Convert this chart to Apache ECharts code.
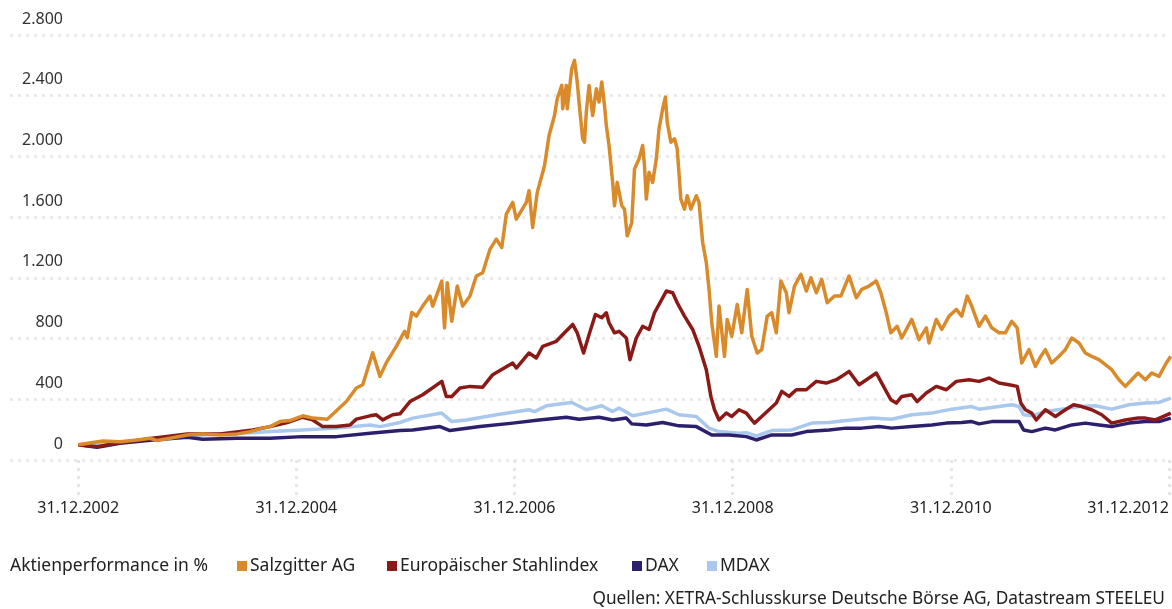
<!DOCTYPE html>
<html><head><meta charset="utf-8">
<script src="https://cdn.jsdelivr.net/npm/echarts@6/dist/echarts.min.js"></script>
<style>html,body{margin:0;padding:0;background:#fff}#c{width:1172px;height:609px}</style>
</head><body><div id="c"></div>
<script>
// x values: months since 31.12.2002
const tickMonths = [0, 24, 48, 72, 96, 120];
const tickLabels = ['31.12.2002', '31.12.2004', '31.12.2006', '31.12.2008', '31.12.2010', '31.12.2012'];
const yTicks = [0, 400, 800, 1200, 1600, 2000, 2400, 2800];
const seriesNames = ['Salzgitter AG', 'Europäischer Stahlindex', 'DAX', 'MDAX'];

const salzgitter = [
[0,100],[2.7,125],[4.6,121],[6.5,132],[7.9,143],[8.7,128],[10.1,143],[12.0,165],[13.7,172],[15.6,165],[17.5,172],[18.9,187],[20.3,210],[21.1,220],[22.2,253],[23.3,260],[24.7,291],[25.8,276],[27.4,269],[28.5,330],[29.5,385],[30.6,474],[31.3,496],[32.4,707],[33.2,551],[33.9,641],[35.0,749],[35.9,848],[36.2,806],[36.7,972],[37.2,948],[37.9,1014],[38.7,1080],[39.0,1014],[39.8,1146],[40.0,1179],[40.3,871],[40.6,1168],[41.1,914],[41.7,1146],[42.3,1014],[43.1,1080],[43.8,1212],[44.5,1234],[45.3,1388],[46.0,1455],[46.6,1400],[47.1,1620],[47.8,1697],[48.2,1587],[49.3,1697],[49.6,1774],[50.0,1532],[50.5,1763],[51.3,1939],[51.8,2138],[52.4,2270],[52.7,2380],[53.2,2468],[53.3,2314],[53.7,2468],[53.8,2314],[54.3,2579],[54.6,2633],[54.9,2490],[55.1,2358],[55.5,2116],[55.7,2094],[55.9,2292],[56.2,2468],[56.6,2270],[57.0,2446],[57.3,2358],[57.6,2490],[57.9,2336],[58.1,2204],[58.4,2072],[58.8,1829],[59.0,1675],[59.3,1829],[59.8,1675],[60.1,1653],[60.4,1477],[60.9,1565],[61.2,1917],[61.7,1984],[62.1,2072],[62.3,1939],[62.5,1719],[62.8,1895],[63.2,1829],[63.6,1984],[63.9,2182],[64.3,2314],[64.6,2391],[64.8,2226],[65.2,2094],[65.6,2116],[65.9,2050],[66.3,1719],[66.7,1653],[67.0,1741],[67.4,1653],[68.0,1741],[68.3,1697],[68.7,1433],[69.1,1300],[69.4,1124],[69.7,904],[70.2,683],[70.5,1014],[71.1,683],[71.4,926],[71.9,815],[72.5,1025],[73.0,838],[73.6,1124],[74.1,815],[74.7,705],[75.2,727],[75.8,948],[76.3,970],[76.8,838],[77.3,1179],[77.9,1102],[78.2,970],[78.8,1146],[79.5,1223],[80.1,1113],[80.6,1201],[81.2,1102],[81.8,1190],[82.4,1036],[83.2,1080],[83.9,1080],[84.8,1212],[85.6,1069],[86.2,1124],[87.0,1146],[87.8,1179],[88.3,1102],[88.9,970],[89.4,838],[90.1,881],[90.6,804],[91.7,926],[92.5,793],[93.3,871],[93.6,771],[94.4,926],[95.0,860],[95.8,948],[96.6,992],[97.2,948],[97.8,1080],[98.3,1014],[99.1,881],[99.8,948],[100.5,871],[101.3,838],[102.0,838],[102.7,914],[103.3,871],[103.8,639],[104.6,727],[105.3,617],[105.9,683],[106.4,727],[107.1,639],[107.9,683],[108.6,727],[109.3,804],[110.1,771],[110.8,705],[111.5,683],[112.3,661],[113.0,628],[113.7,595],[114.5,529],[115.2,485],[115.9,529],[116.6,573],[117.4,529],[118.1,573],[118.9,551],[119.7,639],[120.2,683]
];

const stahlindex = [
[0,100],[2.1,88],[4.6,114],[8.2,143],[12.0,172],[15.6,172],[19.2,198],[21.1,220],[23.0,247],[24.7,282],[25.8,264],[26.9,220],[28.4,220],[29.9,231],[30.6,269],[32.1,291],[32.8,298],[33.5,264],[34.6,298],[35.4,304],[36.5,385],[37.9,430],[40.0,518],[40.5,419],[41.1,419],[42.0,474],[43.1,485],[44.5,480],[45.6,562],[47.8,639],[48.2,606],[49.6,705],[50.4,672],[51.1,749],[52.6,782],[53.5,838],[54.4,893],[54.9,838],[55.6,705],[56.2,826],[56.9,959],[57.6,937],[58.1,970],[58.4,904],[59.0,838],[59.5,848],[60.3,804],[60.7,661],[61.4,804],[62.1,881],[62.8,860],[63.4,970],[64.7,1113],[65.4,1102],[65.9,1036],[66.7,948],[67.6,860],[68.3,749],[69.1,595],[69.6,419],[70.0,331],[70.5,264],[71.3,309],[71.9,287],[72.7,331],[73.5,309],[74.1,264],[74.4,243],[75.2,287],[76.0,331],[76.8,375],[77.4,452],[78.2,419],[79.0,463],[80.1,463],[81.2,518],[82.3,507],[83.4,529],[84.0,551],[84.8,584],[85.9,496],[87.0,540],[87.8,573],[88.4,507],[89.4,397],[90.0,375],[90.6,419],[91.7,430],[92.3,385],[93.3,441],[94.4,485],[95.5,463],[96.6,518],[98.0,529],[99.1,518],[100.2,540],[101.3,507],[102.4,496],[103.3,485],[103.7,375],[104.2,331],[104.9,309],[105.4,264],[106.4,331],[107.5,287],[108.6,331],[109.5,364],[110.4,352],[111.5,331],[112.6,298],[113.7,243],[115.2,264],[116.6,276],[117.4,276],[118.5,264],[119.4,287],[120.2,309]
];

const dax = [
[0,100],[2.1,84],[4.6,110],[8.2,132],[12.0,150],[13.7,137],[17.5,143],[21.1,143],[24.7,154],[28.4,154],[32.1,176],[35.4,194],[36.8,198],[39.8,220],[40.9,194],[44.2,220],[47.8,243],[50.7,264],[53.7,282],[55.1,269],[57.3,282],[58.8,264],[60.3,276],[60.9,238],[62.5,231],[64.3,247],[66.1,225],[68.0,220],[69.7,165],[71.6,165],[73.5,154],[74.6,132],[76.3,165],[78.5,165],[80.1,187],[82.6,198],[84.5,210],[86.2,210],[88.1,220],[89.5,210],[91.7,220],[93.9,231],[95.5,243],[97.2,247],[98.3,253],[99.1,238],[100.5,253],[102.7,253],[103.5,253],[104.0,198],[104.9,187],[106.4,210],[107.5,198],[109.3,231],[110.8,243],[112.3,231],[113.7,220],[115.6,243],[117.4,253],[118.9,253],[120.2,276]
];

const mdax = [
[0,100],[4.6,114],[8.2,143],[12.0,159],[15.6,172],[19.2,180],[21.1,187],[24.7,198],[28.4,210],[32.1,231],[33.2,220],[35.4,247],[36.8,276],[40.0,309],[41.1,253],[42.7,264],[46.0,298],[49.6,331],[50.2,319],[51.5,357],[54.3,379],[55.9,331],[57.6,357],[58.8,319],[59.5,342],[61.0,291],[62.5,309],[64.7,335],[66.1,298],[68.0,287],[69.4,210],[70.5,187],[72.7,176],[73.5,180],[74.6,159],[76.3,194],[78.5,198],[80.7,243],[82.6,247],[84.5,260],[87.3,276],[89.5,269],[91.7,298],[93.9,309],[96.1,335],[98.3,352],[99.1,335],[101.3,352],[102.7,364],[103.5,352],[104.0,298],[104.9,291],[106.4,319],[108.2,335],[110.1,352],[111.9,357],[113.7,335],[115.6,364],[117.4,375],[118.9,379],[120.2,408]
];

const colors = ['#d98b2b', '#8b1a17', '#2e1f6d', '#a8c8ee'];
const FONT = 'Noto Sans';
const TXT = 17.5;

const chart = echarts.init(document.getElementById('c'), null, {renderer: 'canvas'});
const dataSets = [salzgitter, stahlindex, dax, mdax];
const order = [3, 2, 1, 0];
const series = order.map((i, k) => ({
  name: seriesNames[i],
  type: 'line',
  data: dataSets[i],
  showSymbol: false,
  symbol: 'none',
  z: 2 + k,
  lineStyle: {color: colors[i], width: 3.5, join: 'round'},
  itemStyle: {color: colors[i]}
}));

const legendLefts = [232, 382, 627, 702];
const legends = seriesNames.map((n, i) => ({
  left: legendLefts[i], top: 552,
  icon: 'rect', itemWidth: 10, itemHeight: 10, itemGap: 0,
  data: [n],
  selectedMode: false,
  textStyle: {fontFamily: FONT, fontSize: TXT, color: '#222', padding: [0, 0, 0, -2]}
}));

chart.setOption({
  animation: false,
  color: colors,
  grid: {left: 10, right: 0, top: 35, bottom: 149},
  xAxis: {
    type: 'value',
    min: -7.5,
    max: 120,
    axisLine: {show: false},
    splitLine: {show: false},
    axisTick: {
      show: true, customValues: tickMonths, length: 35,
      lineStyle: {color: '#e6e6e6', width: 3, type: [3, 5]}
    },
    axisLabel: {
      customValues: tickMonths,
      margin: 40,
      fontFamily: FONT, fontSize: 16, color: '#222',
      alignMaxLabel: 'right',
      formatter: v => tickLabels[tickMonths.indexOf(Math.round(v))] || ''
    }
  },
  yAxis: {
    type: 'value',
    min: 0, max: 2800, interval: 400,
    axisLine: {show: false},
    axisTick: {show: false},
    splitLine: {lineStyle: {color: '#e9e9e9', width: 3, type: [3, 5]}},
    axisLabel: {
      inside: true, margin: 53, align: 'right', verticalAlign: 'bottom',
      padding: [0, 0, 8, 0],
      fontFamily: FONT, fontSize: 16, color: '#333',
      formatter: v => yTicks.includes(v) ? v.toLocaleString('de-DE') : ''
    }
  },
  legend: legends,
  graphic: [
    {type: 'text', left: 10, top: 557, style: {text: 'Aktienperformance in %', font: TXT + 'px "Noto Sans"', fill: '#222'}},
    {type: 'text', right: 7, top: 591, style: {text: 'Quellen: XETRA-Schlusskurse Deutsche Börse AG, Datastream STEELEU', font: '17.3px "Noto Sans"', fill: '#222'}}
  ],
  series: series
});
</script>
</body></html>
